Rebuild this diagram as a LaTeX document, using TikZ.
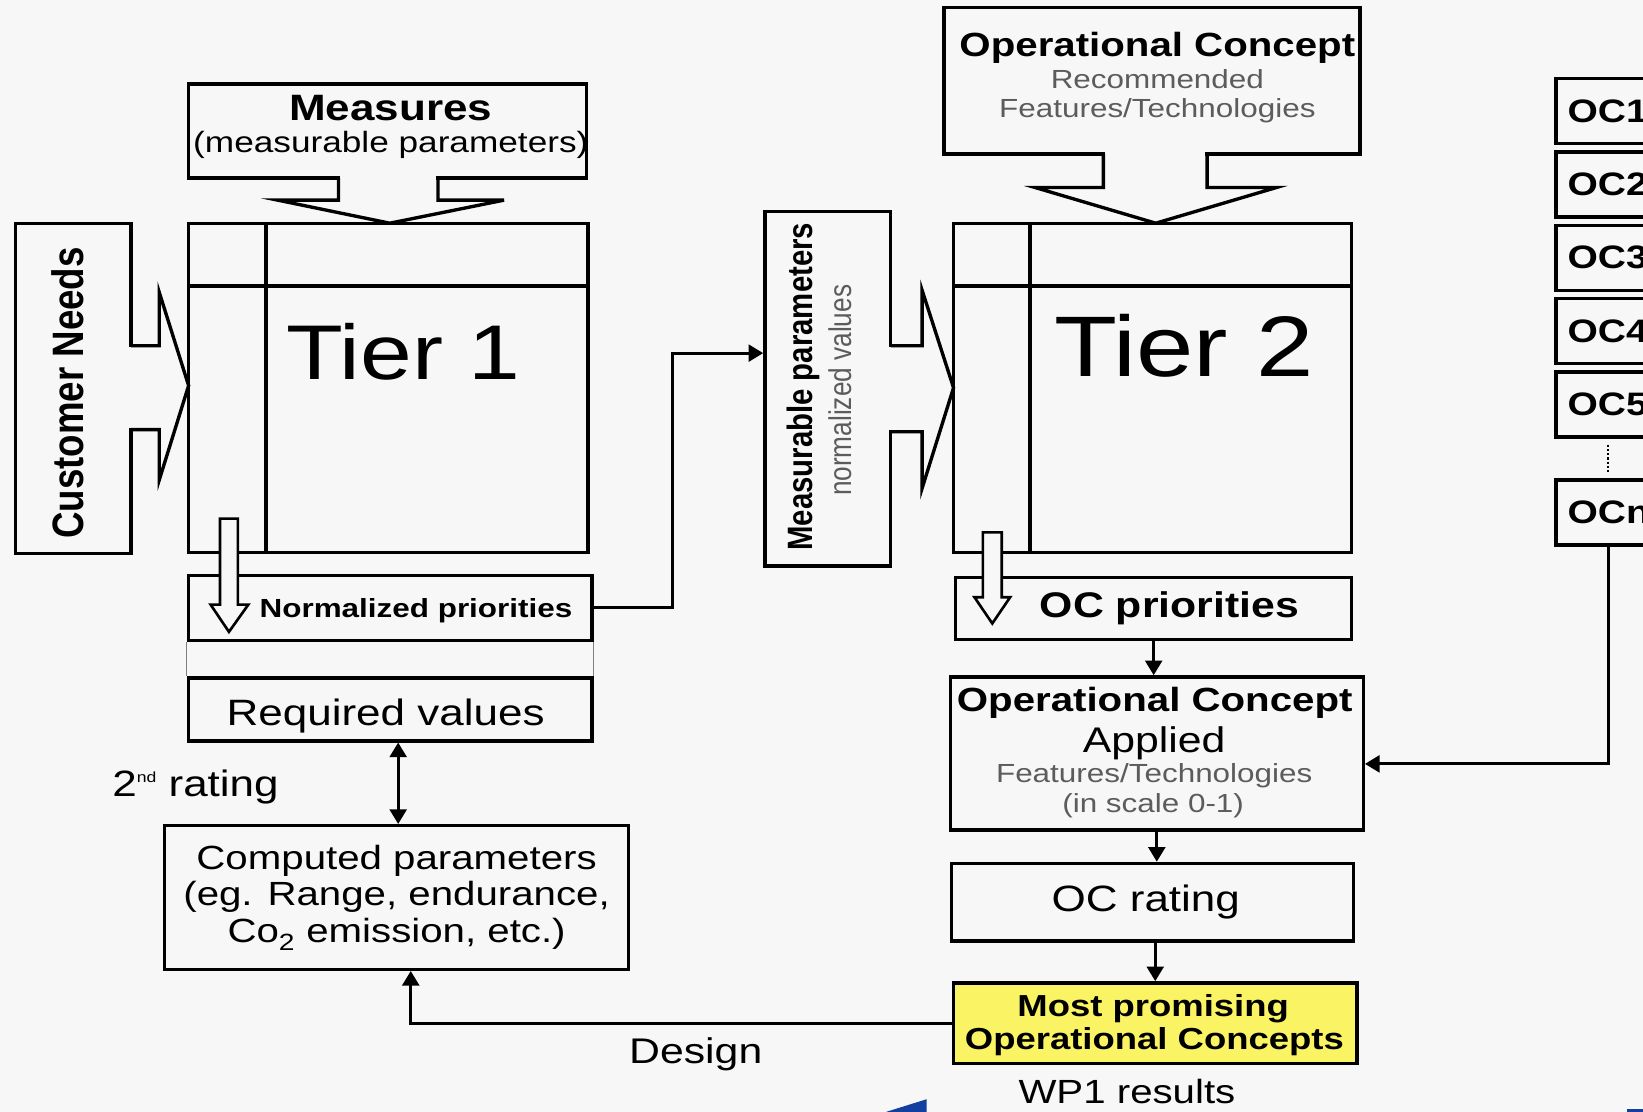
\documentclass[tikz,border=0pt]{standalone}
\usepackage{fontspec}
\setmainfont{Liberation Sans}[FakeStretch=1.2]
\newfontfamily\plainfont{Liberation Sans}
\usetikzlibrary{arrows.meta}

\definecolor{paper}{HTML}{F7F7F7}
\definecolor{note}{HTML}{5C5C5C}
\definecolor{highlight}{HTML}{FAF464}
\definecolor{sheet}{HTML}{1240A0}
\tikzstyle{box}=[draw, line width=3.2pt, inner sep=0pt]
\tikzstyle{ocbox}=[draw, line width=3.2pt, minimum height=62pt, text width=113pt, inner xsep=11pt, inner ysep=0pt, align=left, font=\fontsize{31}{31}\selectfont\bfseries]
\tikzstyle{lbl}=[anchor=base, inner sep=0pt]
\tikzstyle{outline}=[line width=3.2pt, line join=miter]
\tikzstyle{hollow}=[line width=2.5pt, fill=paper, line join=miter]
\tikzstyle{link}=[line width=3pt, -{Triangle[length=14pt, width=16pt]}]
\tikzstyle{twoway}=[line width=3pt, {Triangle[length=14pt, width=16pt]}-{Triangle[length=14pt, width=16pt]}]

\begin{document}
\begin{tikzpicture}[x=1pt, y=-1pt]

\useasboundingbox (0,0) rectangle (1568,1061);
\clip (0,0) rectangle (1568,1061);
\fill [paper] (0,0) rectangle (1568,1061);

\node [box, minimum width=380pt, minimum height=90pt] (measures) at (370,125) {};
\fill [paper] (324.6,168) rectangle (416.4,189.4);
\draw [outline] (323,170) -- (323,191) -- (265,191) -- (372,213)
        -- (481,191) -- (418,191) -- (418,170);

\node [box, minimum width=110pt, minimum height=315pt] (needs) at (70,370.5) {};
\fill [paper] (123,331.6) rectangle (150.4,408.4);
\draw [outline] (125,330) -- (152,330) -- (152,279) -- (180,368)
        -- (152,458) -- (152,410) -- (125,410);

\node [box, minimum width=381pt, minimum height=314pt] (tierone) at (370.5,370) {};
\draw [outline] (254,213) -- (254,527);
\draw [outline] (180,273) -- (561,273);

\node [box, minimum width=385pt, minimum height=62pt] (norm) at (372.5,580) {};
\node [box, minimum width=385pt, minimum height=60pt] (req) at (372.5,677) {};
\draw [line width=1pt, gray] (norm.south west) -- (req.north west);
\draw [line width=1pt, gray] (norm.south east) -- (req.north east);
\node [box, minimum width=443pt, minimum height=137pt, align=center,
       font=\fontsize{32}{35}\selectfont] (comp) at (378.5,856.5)
      {Computed parameters\\(eg. Range, endurance,\\Co\textsubscript{2} emission, etc.)};

\draw [hollow] (210,495) -- (227,495) -- (227,577) -- (237,577)
        -- (218.5,603) -- (201,577) -- (210,577) -- cycle;

\node [box, minimum width=120pt, minimum height=338pt] (mpar) at (790,371) {};
\fill [paper] (848,331.6) rectangle (878.4,410.4);
\draw [outline] (850,330) -- (880,330) -- (880,277) -- (910,370)
        -- (880,466) -- (880,412) -- (850,412);

\node [box, minimum width=397pt, minimum height=140pt] (ocrec) at (1099.5,77) {};
\fill [paper] (1054.6,145) rectangle (1150.4,177.4);
\draw [outline] (1053,147) -- (1053,179) -- (988,179) -- (1103,213)
        -- (1218,179) -- (1152,179) -- (1152,147);

\node [box, minimum width=380pt, minimum height=314pt] (tiertwo) at (1100,370) {};
\draw [outline] (983,213) -- (983,527);
\draw [outline] (910,273) -- (1290,273);

\node [box, minimum width=378pt, minimum height=59pt] (ocprio) at (1101,580.5) {};
\node [box, minimum width=394pt, minimum height=146pt] (ocapp) at (1104,719) {};
\node [box, minimum width=384pt, minimum height=74pt] (ocrate) at (1100,861) {};
\node [box, fill=highlight, minimum width=385pt, minimum height=77pt] (best) at (1102.5,976.5) {};

\draw [hollow] (938,508) -- (956,508) -- (956,570) -- (964,570)
        -- (947,595) -- (930,570) -- (938,570) -- cycle;

\node [ocbox] (oc1) at (1552.5,106) {OC1};
\node [ocbox] (oc2) at (1552.5,176) {OC2};
\node [ocbox] (oc3) at (1552.5,246) {OC3};
\node [ocbox] (oc4) at (1552.5,316) {OC4};
\node [ocbox] (oc5) at (1552.5,386) {OC5};
\node [ocbox] (ocn) at (1552.5,489) {OCn};

\node [lbl, font=\fontsize{35}{35}\selectfont\bfseries] (measurestitle) at (373,115) {Measures};
\node [lbl, font=\fontsize{28}{28}\selectfont] (measuressub) at (373,146) {(measurable parameters)};
\node [rotate=90, inner sep=0pt] (needslabel) at (65,375)
      {\scalebox{1}[1.2]{\plainfont\bfseries\fontsize{35}{35}\selectfont Customer Needs}};
\node [lbl, font=\fontsize{74}{74}\selectfont] (tieronelabel) at (385,362) {Tier 1};
\node [lbl, font=\fontsize{25}{25}\selectfont\bfseries] (normlabel) at (397,589) {Normalized priorities};
\node [lbl, font=\fontsize{35}{35}\selectfont] (reqlabel) at (368,692) {Required values};
\node [lbl, anchor=base west, font=\fontsize{35}{35}\selectfont] (ratinglabel) at (107,760)
      {2\raisebox{13pt}{\fontsize{14}{14}\selectfont nd} rating};
\node [lbl, font=\fontsize{34}{34}\selectfont] (designlabel) at (664,1015) {Design};

\node [rotate=90, inner sep=0pt] (mparlabel) at (766.5,369)
      {\scalebox{1}[1.2]{\plainfont\bfseries\fontsize{28}{28}\selectfont Measurable parameters}};
\node [rotate=90, inner sep=0pt, text=note] (mparsub) at (801.5,372.5)
      {\scalebox{1}[1.2]{\plainfont\fontsize{25}{25}\selectfont normalized values}};

\node [lbl, font=\fontsize{32}{32}\selectfont\bfseries] (ocrectitle) at (1104.5,54) {Operational Concept};
\node [lbl, text=note, font=\fontsize{25}{25}\selectfont] (ocrecsub) at (1104.5,84) {Recommended};
\node [lbl, text=note, font=\fontsize{25}{25}\selectfont] (ocrecfeat) at (1104.5,112) {Features/Technologies};
\node [lbl, font=\fontsize{82}{82}\selectfont] (tiertwolabel) at (1130,359) {Tier 2};
\node [lbl, font=\fontsize{34}{34}\selectfont\bfseries] (ocpriolabel) at (1116,589) {OC priorities};
\node [lbl, font=\fontsize{32}{32}\selectfont\bfseries] (ocapptitle) at (1102,679) {Operational Concept};
\node [lbl, font=\fontsize{34}{34}\selectfont] (ocappsub) at (1101.5,718) {Applied};
\node [lbl, text=note, font=\fontsize{25}{25}\selectfont] (ocappfeat) at (1101.5,747) {Features/Technologies};
\node [lbl, text=note, font=\fontsize{25}{25}\selectfont] (ocappscale) at (1100.5,775) {(in scale 0-1)};
\node [lbl, font=\fontsize{35}{35}\selectfont] (ocratelabel) at (1093.5,870) {OC rating};
\node [lbl, font=\fontsize{29}{29}\selectfont\bfseries] (besttop) at (1100.5,970) {Most promising};
\node [lbl, font=\fontsize{29}{29}\selectfont\bfseries] (bestbottom) at (1101.7,1002) {Operational Concepts};
\node [lbl, font=\fontsize{32}{32}\selectfont] (wpresult) at (1075.5,1053) {WP1 results};

\coordinate (bend) at (642,337);
\draw [link] (norm.east) -| (bend) -- (bend -| mpar.west);
\draw [twoway] ([xshift=7.5pt]req.south) -- ([xshift=7.5pt]req.south |- comp.north);
\draw [link] (best.west) -| ([xshift=13.5pt]comp.south);

\draw [link] (ocprio.south) -- (ocprio.south |- ocapp.north);
\draw [link] (ocapp.south) -- (ocapp.south |- ocrate.north);
\draw [link] (ocrate.south -| best.north) -- (best.north);

\coordinate (ocdrop) at (1535,729);
\draw [line width=2pt, dotted] ([yshift=-6pt]oc5.south -| ocdrop) -- ([yshift=6pt]ocn.north -| ocdrop);
\draw [link] (ocn.south -| ocdrop) -- (ocdrop) -- (ocdrop -| ocapp.east);

\fill [sheet] (884.4,1049) -- (884.4,1061) -- (846,1061) -- cycle;
\fill [sheet] (1553,1058) rectangle (1568,1061);

\end{tikzpicture}
\end{document}
